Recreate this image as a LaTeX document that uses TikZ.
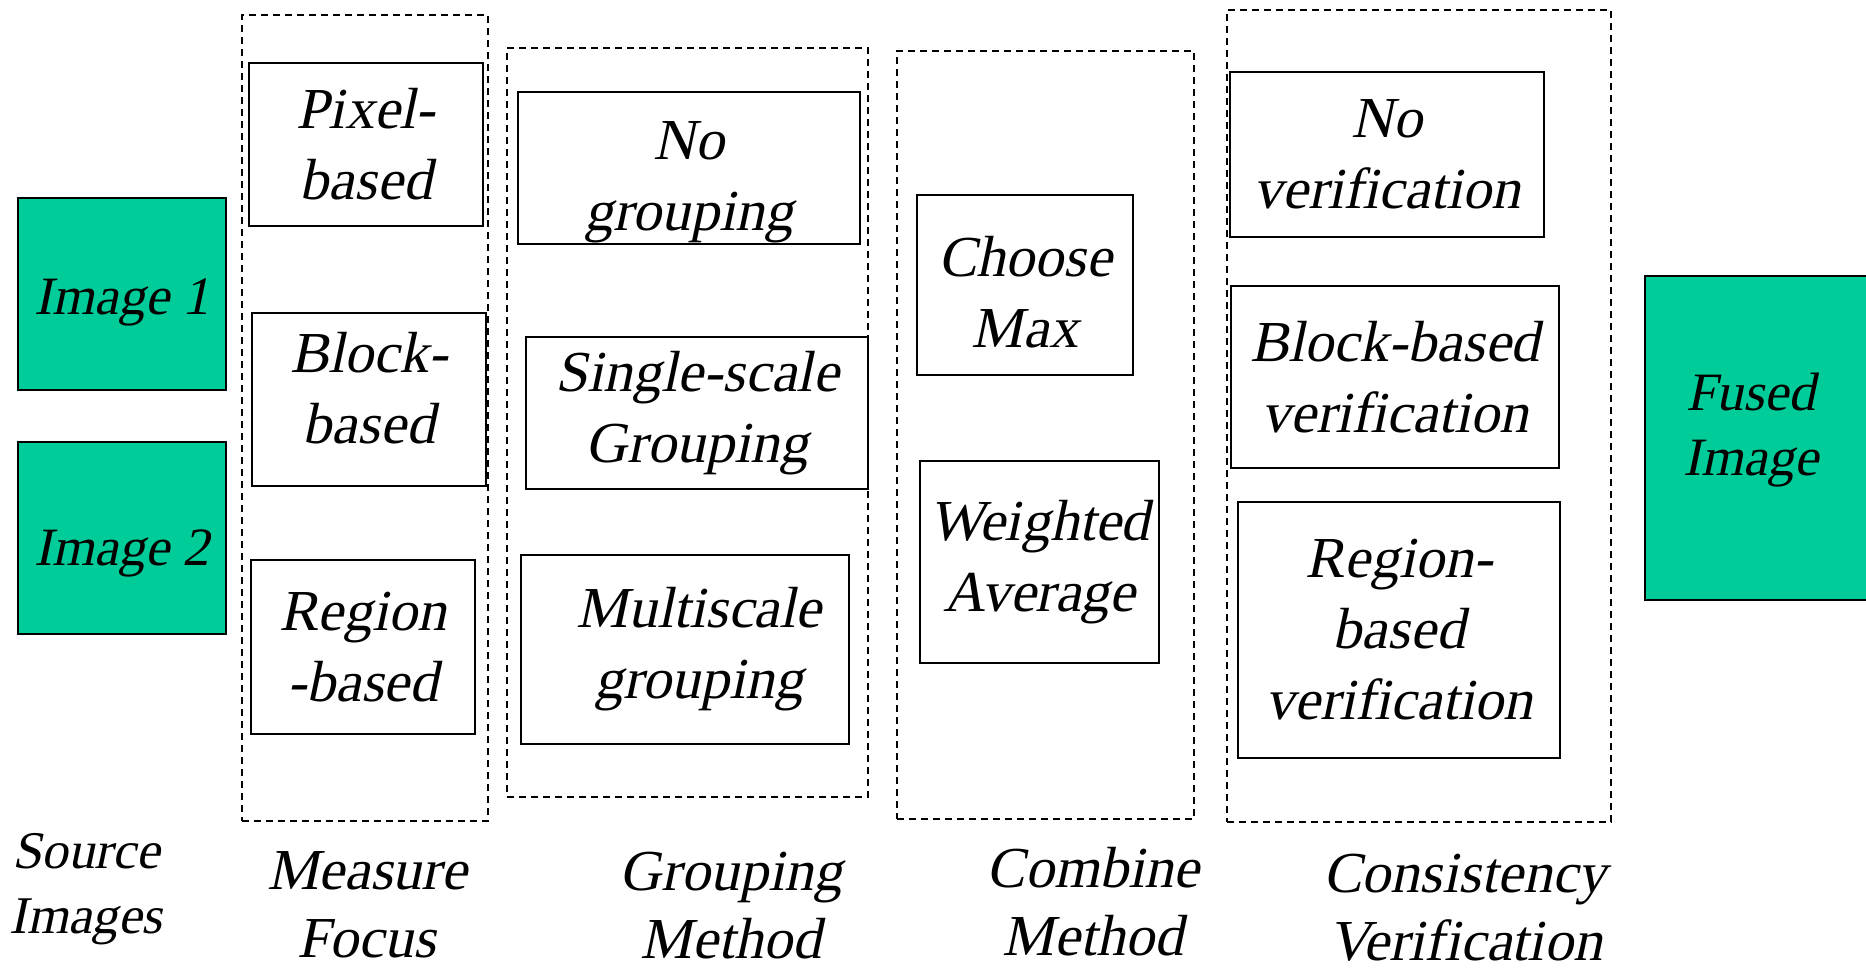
\documentclass[tikz,border=0pt]{standalone}
\usepackage{fontspec}
\setmainfont{Liberation Serif}[ItalicFont={Liberation Serif},ItalicFeatures={FakeSlant=0.21}]
\usepackage{tikz}
\usetikzlibrary{positioning}

\definecolor{imggreen}{RGB}{0,204,153}

\begin{document}
\begin{tikzpicture}[
                x=1pt,y=-1pt,
                every node/.append style={align=center,inner sep=0pt,font=\itshape\fontsize{58}{71}\selectfont},
                imgtext/.style={font=\itshape\fontsize{54}{65}\selectfont},
                imgbox/.style={rectangle,draw,line width=1.4pt,fill=imggreen,imgtext},
                methodbox/.style={rectangle,draw,line width=1.4pt},
                frame/.style={rectangle,draw,dashed,dash pattern=on 7pt off 5pt,line width=1.1pt},
                caption/.style={font=\itshape\fontsize{58}{68}\selectfont}
            ]
                \useasboundingbox (0,0) rectangle (1866,970);
                % source and result
                \node (img1) [imgbox,minimum width=208,minimum height=192,
                              label={[imgtext,yshift=-8pt]center:Image 1}] at (122,294) {};
                \node (img2) [imgbox,minimum width=208,minimum height=192,
                              label={[imgtext,yshift=-15pt]center:Image 2}] at (122,538) {};
                \node (fused) [imgbox,minimum width=240,minimum height=324,
                               label={[imgtext,xshift=-14pt,yshift=8pt]center:{Fused\\Image}}] at (1765,438) {};
                % group frames
                \node (focus)   [frame,minimum width=246,minimum height=806] at (365,418) {};
                \node (group)   [frame,minimum width=361,minimum height=749] at (687.5,422.5) {};
                \node (combine) [frame,minimum width=297,minimum height=768] at (1045.5,435) {};
                \node (verif)   [frame,minimum width=384,minimum height=812] at (1419,416) {};
                % measure focus
                \node (pixel)  [methodbox,minimum width=234,minimum height=163] at (366,144.5) {Pixel-\\based};
                \node (block)  [methodbox,minimum width=234,minimum height=173,
                                label={[yshift=11pt]center:{Block-\\based}}] at (369,399.5) {};
                \node (region) [methodbox,minimum width=224,minimum height=174] at (363,647) {Region\\-based};
                % grouping method
                \node (nogroup) [methodbox,minimum width=342,minimum height=152,
                                 label={[yshift=-14pt]center:{No\\grouping}}] at (689,168) {};
                \node (single)  [methodbox,minimum width=342,minimum height=152] at (697,413) {Single-scale\\Grouping};
                \node (multi)   [methodbox,minimum width=328,minimum height=189] at (685,649.5) {\hspace*{28pt}Multiscale\\\hspace*{28pt}grouping};
                % combine method
                \node (choose)   [methodbox,minimum width=216,minimum height=180,
                                  label={[yshift=-7pt]center:{Choose\\Max}}] at (1025,285) {};
                \node (weighted) [methodbox,minimum width=239,minimum height=202] at (1039.5,562) {Weighted\\Average};
                % consistency verification
                \node (noverif)     [methodbox,minimum width=314,minimum height=165] at (1387,154.5) {No\\verification};
                \node (blockverif)  [methodbox,minimum width=328,minimum height=182] at (1395,377) {Block-based\\verification};
                \node (regionverif) [methodbox,minimum width=322,minimum height=256] at (1399,630) {Region-\\based\\verification};
                % captions
                \node (srccap)     [caption,font=\itshape\fontsize{53}{65}\selectfont] at (86,889) {Source\\Images};
                \node (focuscap)   [caption] at (367,905) {Measure\\Focus};
                \node (groupcap)   [caption] at (731,906) {Grouping\\Method};
                \node (combinecap) [caption] at (1093,902) {Combine\\Method};
                \node (verifcap)   [caption] at (1465,908) {Consistency\\Verification};
            \end{tikzpicture}
\end{document}
